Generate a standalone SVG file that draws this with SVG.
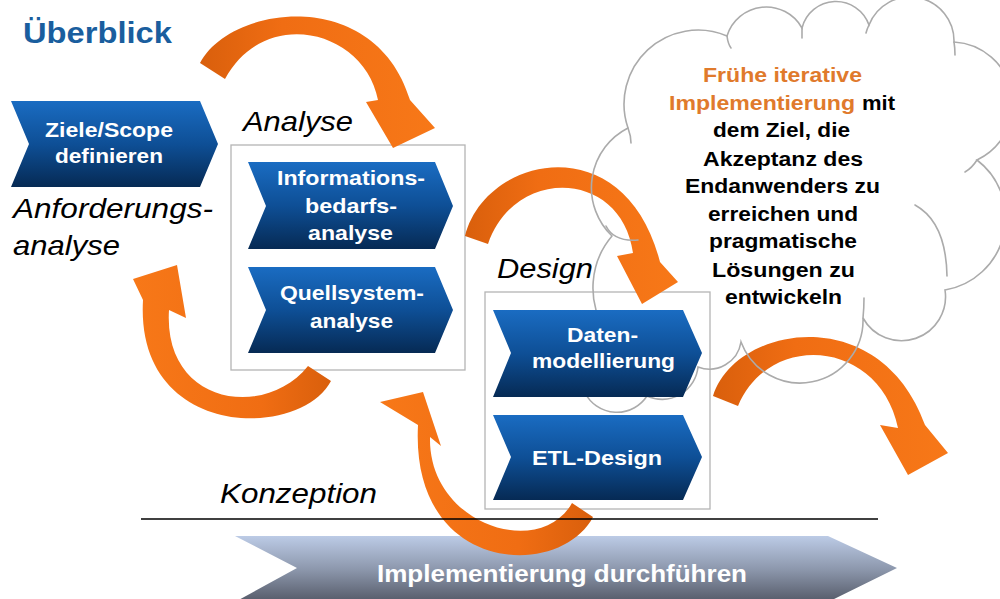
<svg xmlns="http://www.w3.org/2000/svg" width="1000" height="599" viewBox="0 0 1000 599">
<defs>
<linearGradient id="blue" x1="0" y1="0" x2="0" y2="1">
<stop offset="0" stop-color="#1a6cc2"/>
<stop offset="0.5" stop-color="#0e4f96"/>
<stop offset="1" stop-color="#062a54"/>
</linearGradient>
<linearGradient id="gray" x1="0" y1="0" x2="0" y2="1">
<stop offset="0" stop-color="#bccbe6"/>
<stop offset="0.5" stop-color="#8d98ad"/>
<stop offset="1" stop-color="#555a68"/>
</linearGradient>
<linearGradient id="ogA" x1="0" y1="0" x2="1" y2="0">
<stop offset="0" stop-color="#d95f0c"/>
<stop offset="0.35" stop-color="#f06d13"/>
<stop offset="1" stop-color="#f77818"/>
</linearGradient>
<linearGradient id="ogB" x1="1" y1="0" x2="0" y2="0">
<stop offset="0" stop-color="#d95f0c"/>
<stop offset="0.35" stop-color="#f06d13"/>
<stop offset="1" stop-color="#f77818"/>
</linearGradient>
<style>
.chev{fill:url(#blue);}
.ct{font-family:"Liberation Sans",Arial,sans-serif;font-weight:bold;font-size:21px;fill:#ffffff;}
.it{font-family:"Liberation Sans",Arial,sans-serif;font-style:italic;font-size:28px;fill:#000000;}
.box{fill:none;stroke:#b4b4b4;stroke-width:1.3;}
.arrA{fill:url(#ogA);}
.arrB{fill:url(#ogB);}
.cloud{fill:none;stroke:#ababab;stroke-width:1.6;stroke-linecap:round;}
.cl{font-family:"Liberation Sans",Arial,sans-serif;font-weight:bold;font-size:19.5px;fill:#000000;}
.or{fill:#e07a2c;}
</style>
</defs>
<rect width="1000" height="599" fill="#ffffff"/>

<g id="title">
<text x="23" y="43" textLength="149" lengthAdjust="spacingAndGlyphs" style="font-family:'Liberation Sans',Arial,sans-serif;font-weight:bold;font-size:29px;fill:#1a5e9e">Überblick</text>
</g>

<g id="analyse-box">
<rect class="box" x="231" y="145" width="234" height="225"/>
<text class="it" x="243" y="131" textLength="110" lengthAdjust="spacingAndGlyphs">Analyse</text>
</g>

<g id="design-box">
<rect class="box" x="485" y="292" width="225" height="217"/>
<text class="it" x="497" y="278" textLength="96" lengthAdjust="spacingAndGlyphs">Design</text>
</g>

<g id="implementierung">
<path d="M235,536 L828,536 L897,568 L828,602 L235,602 L297,568 Z" fill="url(#gray)"/>
<text x="377" y="582" textLength="370" lengthAdjust="spacingAndGlyphs" style="font-family:'Liberation Sans',Arial,sans-serif;font-weight:bold;font-size:24px;fill:#ffffff">Implementierung durchführen</text>
</g>

<g id="connectors">
<path class="arrA" d="M200,63 C230,5 375,-15 410,100 L435,128 L393,148 L366,102 L378,100 C365,30 265,5 225,79 Z"/>
<path class="arrA" d="M465,236 C485,155 625,125 660,262 L678,282 L642,304 L617,256 L633,253 C622,170 515,165 488,244 Z"/>
<path class="arrA" d="M713,396 C735,325 880,300 925,425 L948,453 L908,475 L880,425 L898,428 C880,340 770,330 738,406 Z"/>
<path class="arrB" d="M331,381 C300,440 135,440 143,300 L133,279 L177,265 L186,318 L169,310 C163,405 265,420 308,366 Z"/>
<path class="arrB" d="M593,517 C560,580 410,575 418,425 L380,402 L423,392 L441,446 L430,437 C428,525 540,560 572,503 Z"/>
</g>

<g id="cloud">
<path class="cloud" d="M612,236 A67 67 0 0 1 628,128 A74 74 0 0 1 727,36 A41 41 0 0 1 802,28 A35 35 0 0 1 869,25 A44 44 0 0 1 954,42 A62 62 0 0 1 977,160 A73 73 0 0 1 945,290 A44 44 0 0 1 863,318 A63 63 0 0 1 741,342 A32 32 0 0 1 698,367 A36 36 0 0 1 647,396 A36 36 0 0 1 585,393 A44 44 0 0 1 605,330 A80 80 0 0 1 612,236"/>
<path class="cloud" d="M606,226 Q614,242 638,240"/>
<path class="cloud" d="M915,205 Q946,222 947,276"/>
<path class="cloud" d="M727,36 Q728,44 731,48"/>
<path class="cloud" d="M802,28 Q802,33 802,38"/>
<path class="cloud" d="M869,25 Q867,29 866,33"/>
<path class="cloud" d="M954,42 Q955,48 955,55"/>
<path class="cloud" d="M628,128 Q631,136 631,143"/>
<path class="cloud" d="M863,318 Q864,308 864,298"/>
<path class="cloud" d="M977,160 Q972,168 965,172"/>
<text class="cl or" x="703" y="82" textLength="159" lengthAdjust="spacingAndGlyphs">Frühe iterative</text>
<text class="cl or" x="669" y="110" textLength="186" lengthAdjust="spacingAndGlyphs">Implementierung</text>
<text class="cl" x="862" y="110" textLength="33" lengthAdjust="spacingAndGlyphs">mit</text>
<text class="cl" x="713" y="137" textLength="137" lengthAdjust="spacingAndGlyphs">dem Ziel, die</text>
<text class="cl" x="703" y="166" textLength="160" lengthAdjust="spacingAndGlyphs">Akzeptanz des</text>
<text class="cl" x="685" y="193" textLength="195" lengthAdjust="spacingAndGlyphs">Endanwenders zu</text>
<text class="cl" x="708" y="221" textLength="150" lengthAdjust="spacingAndGlyphs">erreichen und</text>
<text class="cl" x="709" y="248" textLength="148" lengthAdjust="spacingAndGlyphs">pragmatische</text>
<text class="cl" x="712" y="277" textLength="143" lengthAdjust="spacingAndGlyphs">Lösungen zu</text>
<text class="cl" x="725" y="304" textLength="117" lengthAdjust="spacingAndGlyphs">entwickeln</text>
</g>

<g id="ziele">
<path class="chev" d="M11,101 L200,101 L218,144 L200,187 L11,187 L29,144 Z"/>
<text class="ct" x="45" y="137" textLength="128" lengthAdjust="spacingAndGlyphs">Ziele/Scope</text>
<text class="ct" x="55" y="163" textLength="108" lengthAdjust="spacingAndGlyphs">definieren</text>
</g>

<g id="anforderungsanalyse">
<text class="it" x="13" y="218" textLength="200" lengthAdjust="spacingAndGlyphs">Anforderungs-</text>
<text class="it" x="13" y="255" textLength="107" lengthAdjust="spacingAndGlyphs">analyse</text>
</g>

<g id="informationsbedarfsanalyse">
<path class="chev" d="M248,162 L435,162 L453,206 L435,249 L248,249 L266,206 Z"/>
<text class="ct" x="277" y="185" textLength="148" lengthAdjust="spacingAndGlyphs">Informations-</text>
<text class="ct" x="305" y="213" textLength="92" lengthAdjust="spacingAndGlyphs">bedarfs-</text>
<text class="ct" x="308" y="240" textLength="85" lengthAdjust="spacingAndGlyphs">analyse</text>
</g>

<g id="quellsystemanalyse">
<path class="chev" d="M248,267 L435,267 L453,310 L435,353 L248,353 L266,310 Z"/>
<text class="ct" x="280" y="300" textLength="144" lengthAdjust="spacingAndGlyphs">Quellsystem-</text>
<text class="ct" x="310" y="328" textLength="83" lengthAdjust="spacingAndGlyphs">analyse</text>
</g>

<g id="datenmodellierung">
<path class="chev" d="M493,310 L683,310 L702,353 L683,397 L493,397 L511,353 Z"/>
<text class="ct" x="567" y="342" textLength="71" lengthAdjust="spacingAndGlyphs">Daten-</text>
<text class="ct" x="532" y="368" textLength="143" lengthAdjust="spacingAndGlyphs">modellierung</text>
</g>

<g id="etl-design">
<path class="chev" d="M493,415 L683,415 L702,457 L683,500 L493,500 L511,457 Z"/>
<text class="ct" x="532" y="465" textLength="130" lengthAdjust="spacingAndGlyphs">ETL-Design</text>
</g>

<g id="konzeption">
<text class="it" x="220" y="503" textLength="157" lengthAdjust="spacingAndGlyphs">Konzeption</text>
<line x1="141" y1="519" x2="878" y2="519" stroke="#000000" stroke-width="1.5"/>
</g>
</svg>
